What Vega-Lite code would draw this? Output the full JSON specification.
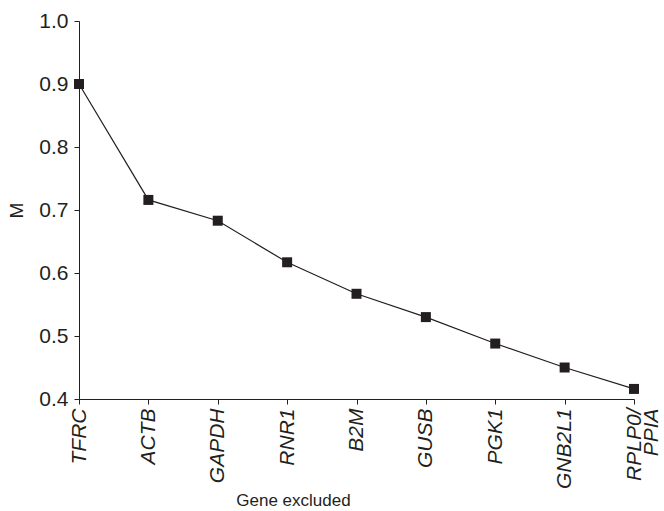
{
  "$schema": "https://vega.github.io/schema/vega-lite/v6.json",
  "width": 555,
  "height": 378,
  "autosize": {"type": "none"},
  "padding": {"left": 79, "top": 21, "right": 30, "bottom": 112},
  "background": "white",
  "config": {"view": {"stroke": null}, "font": "Liberation Sans"},
  "data": {"values": [
    {"gene": "TFRC", "M": 0.900},
    {"gene": "ACTB", "M": 0.716},
    {"gene": "GAPDH", "M": 0.683},
    {"gene": "RNR1", "M": 0.617},
    {"gene": "B2M", "M": 0.567},
    {"gene": "GUSB", "M": 0.530},
    {"gene": "PGK1", "M": 0.488},
    {"gene": "GNB2L1", "M": 0.450},
    {"gene": "RPLP0/PPIA", "M": 0.416}
  ]},
  "encoding": {
    "x": {"field": "gene", "type": "nominal", "sort": null,
      "scale": {"type": "point", "padding": 0},
      "axis": {"title": "Gene excluded", "labelAngle": -90, "labelAlign": "right", "labelBaseline": "middle",
        "labelFontStyle": "italic", "labelFontSize": 21, "labelColor": "#231f20", "labelPadding": 4,
        "labelExpr": "datum.value == 'RPLP0/PPIA' ? ['RPLP0/', 'PPIA'] : datum.label",
        "labelLineHeight": 17,
        "titleFontSize": 17, "titleFontWeight": "normal", "titleColor": "#231f20",
        "titleX": 214, "titleY": 106, "titleBaseline": "alphabetic",
        "domainColor": "#231f20", "tickColor": "#231f20", "tickSize": 5, "labelOverlap": false}},
    "y": {"field": "M", "type": "quantitative",
      "scale": {"domain": [0.4, 1.0], "nice": false, "zero": false},
      "axis": {"title": "M", "values": [0.4, 0.5, 0.6, 0.7, 0.8, 0.9, 1.0], "format": ".1f", "grid": false,
        "labelFontSize": 21, "labelColor": "#231f20", "labelPadding": 6,
        "titleFontSize": 19, "titleFontWeight": "normal", "titleColor": "#231f20", "titlePadding": 12,
        "domainColor": "#231f20", "tickColor": "#231f20", "tickSize": 5}}
  },
  "layer": [
    {"mark": {"type": "line", "color": "#231f20", "strokeWidth": 1.2}},
    {"mark": {"type": "square", "color": "#231f20", "opacity": 1, "size": 100}}
  ]
}
